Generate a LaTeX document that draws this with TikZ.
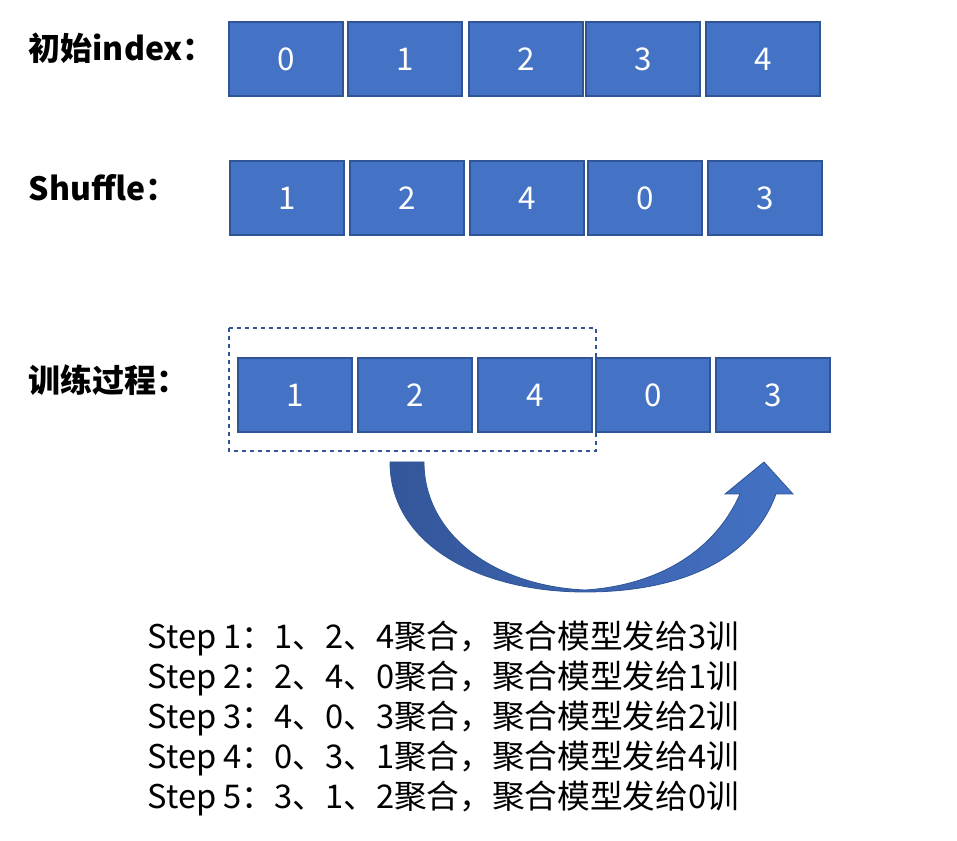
\documentclass[tikz,border=0pt]{standalone}
\usepackage{fontspec}
\setmainfont{Noto Sans CJK SC}
\usepackage{tikz}
\usetikzlibrary{calc, shapes, backgrounds}

\definecolor{boxfill}{HTML}{4472C4}
\definecolor{boxline}{HTML}{2F5597}
\definecolor{arrowdark}{HTML}{34569A}

\begin{document}
\begin{tikzpicture}[
    x = 0.75pt, y = -0.75pt,
    idxbox/.style = {draw = boxline, fill = boxfill, line width = 1.4pt,
      minimum width = 85pt, minimum height = 55pt, text = white,
      font = \fontsize{23.5}{27}\selectfont},
    rowlabel/.style = {anchor = west, font = \fontsize{24}{28}\selectfont\bfseries},
    window/.style = {draw = boxline, dashed, line width = 0.9pt}
  ]
  \useasboundingbox (0,0) rectangle (957,841);

  % row labels
  \node[rowlabel] (initlabel) at (24,48) {初始index：};
  \node[rowlabel] (shuflabel) at (24,188) {Shuffle：};
  \node[rowlabel] (trainlabel) at (24,380) {训练过程：};

  % initial order
  \node[idxbox] (i0) at (286,59) {0};
  \node[idxbox] (i1) at (405,59) {1};
  \node[idxbox] (i2) at (526,59) {2};
  \node[idxbox] (i3) at (643,59) {3};
  \node[idxbox] (i4) at (763,59) {4};

  % shuffled order
  \node[idxbox] (s1) at (287,198) {1};
  \node[idxbox] (s2) at (407,198) {2};
  \node[idxbox] (s4) at (527,198) {4};
  \node[idxbox] (s0) at (645,198) {0};
  \node[idxbox] (s3) at (765,198) {3};

  % training
  \node[idxbox] (t1) at (295,395) {1};
  \node[idxbox] (t2) at (415,395) {2};
  \node[idxbox] (t4) at (535,395) {4};
  \node[idxbox] (t0) at (653,395) {0};
  \node[idxbox] (t3) at (773,395) {3};

  \draw[window] (229,328) rectangle (596,451);

  % curved arrow
  \path[shade, left color = arrowdark, right color = boxfill, draw = boxline, line width = 0.6pt]
    (390,462) .. controls (390,545) and (480,592) .. (585,592)
    .. controls (680,592) and (752,560) .. (776,494)
    -- (793,494) -- (764,462) -- (725,494) -- (740,494)
    .. controls (712,557) and (650,586) .. (585,590)
    .. controls (495,586) and (424,535) .. (424,462) -- cycle;

  % steps
  \node[anchor = west, align = left, font = \fontsize{24.5}{30}\selectfont]
    (steps) at (143,718) {Step 1：1、2、4聚合，聚合模型发给3训\\
    Step 2：2、4、0聚合，聚合模型发给1训\\
    Step 3：4、0、3聚合，聚合模型发给2训\\
    Step 4：0、3、1聚合，聚合模型发给4训\\
    Step 5：3、1、2聚合，聚合模型发给0训};

\end{tikzpicture}
\end{document}
